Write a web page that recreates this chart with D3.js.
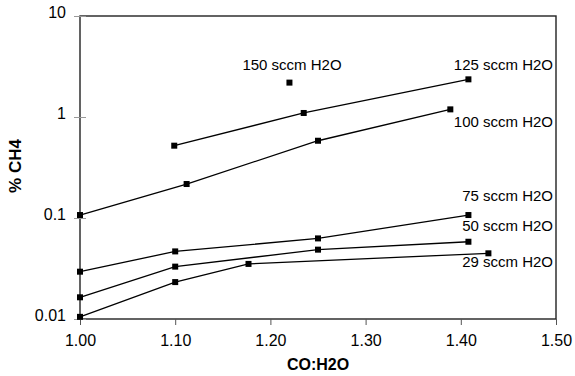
<!DOCTYPE html>
<html>
<head>
<meta charset="utf-8">
<script src="https://cdn.jsdelivr.net/npm/d3@7"></script>
<style>
  body { margin: 0; background: #fff; }
  svg text { font-family: "Liberation Sans", Arial, sans-serif; fill: #000; }
</style>
</head>
<body>
<div id="chart"></div>
<script>
// data (CO:H2O ratio vs % CH4)
const s29x = [1.00, 1.10, 1.177, 1.429];
const s29y = [0.0105, 0.0232, 0.0351, 0.0447];
const s50x = [1.00, 1.10, 1.25, 1.408];
const s50y = [0.0164, 0.033, 0.0486, 0.0582];
const s75x = [1.00, 1.10, 1.25, 1.408];
const s75y = [0.0294, 0.0467, 0.0628, 0.107];
const s100x = [1.00, 1.112, 1.25, 1.389];
const s100y = [0.107, 0.217, 0.582, 1.19];
const s125x = [1.099, 1.235, 1.408];
const s125y = [0.52, 1.096, 2.36];
const s150x = [1.22];
const s150y = [2.19];

const seriesNames = ['29 sccm H2O', '50 sccm H2O', '75 sccm H2O', '100 sccm H2O', '125 sccm H2O', '150 sccm H2O'];
const xTicks = [1.00, 1.10, 1.20, 1.30, 1.40, 1.50];
const yTicks = [0.01, 0.1, 1, 10];

const width = 575, height = 376;
const margin = {top: 16, right: 19, bottom: 57, left: 80};

const svg = d3.select('#chart').append('svg')
  .attr('width', width)
  .attr('height', height);

const x = d3.scaleLinear().domain([1.0, 1.5]).range([margin.left, width - margin.right]);
const y = d3.scaleLog().domain([0.01, 10]).range([height - margin.bottom, margin.top]);

// frame
svg.append('rect')
  .attr('x', x(1.0)).attr('y', y(10))
  .attr('width', x(1.5) - x(1.0)).attr('height', y(0.01) - y(10))
  .attr('fill', 'none').attr('stroke', '#222').attr('stroke-width', 1.4);

// x axis
const xAxis = svg.append('g')
  .attr('transform', 'translate(0,' + y(0.01) + ')')
  .call(d3.axisBottom(x).tickValues(xTicks).tickFormat(d3.format('.2f')).tickSizeOuter(0).tickSize(6).tickPadding(10));
xAxis.select('.domain').remove();
xAxis.selectAll('line').attr('stroke', '#555');
xAxis.selectAll('text').style('font-size', '16px');

// y axis
const yAxis = svg.append('g')
  .attr('transform', 'translate(' + x(1.0) + ',0)')
  .call(d3.axisLeft(y).tickValues(yTicks).tickFormat(d => d).tickSize(6).tickPadding(8));
yAxis.select('.domain').remove();
yAxis.selectAll('line').attr('stroke', '#999').attr('x2', 6).attr('x1', -6);
yAxis.selectAll('text').style('font-size', '16px').attr('dy', '0.1em');

// axis titles
svg.append('text')
  .attr('x', (x(1.0) + x(1.5)) / 2).attr('y', 370)
  .attr('text-anchor', 'middle')
  .style('font-size', '16px').style('font-weight', 'bold')
  .text('CO:H2O');

svg.append('text')
  .attr('transform', 'translate(21,' + 166 + ') rotate(-90)')
  .attr('text-anchor', 'middle')
  .style('font-size', '17px').style('font-weight', 'bold')
  .text('% CH4');

// series
const series = [
  {name: seriesNames[0], xs: s29x, ys: s29y},
  {name: seriesNames[1], xs: s50x, ys: s50y},
  {name: seriesNames[2], xs: s75x, ys: s75y},
  {name: seriesNames[3], xs: s100x, ys: s100y},
  {name: seriesNames[4], xs: s125x, ys: s125y},
  {name: seriesNames[5], xs: s150x, ys: s150y}
];

const line = d3.line().x(d => x(d[0])).y(d => y(d[1]));

series.forEach(s => {
  const pts = s.xs.map((v, i) => [v, s.ys[i]]);
  svg.append('path')
    .attr('d', line(pts))
    .attr('fill', 'none')
    .attr('stroke', '#000')
    .attr('stroke-width', 1.3);
  svg.selectAll(null)
    .data(pts)
    .enter().append('rect')
    .attr('x', d => x(d[0]) - 3)
    .attr('y', d => y(d[1]) - 3)
    .attr('width', 6).attr('height', 6)
    .attr('fill', '#000');
});

// series labels
const labelPos = [
  {name: seriesNames[0], x: 553, y: 262, anchor: 'end'},
  {name: seriesNames[1], x: 553, y: 226, anchor: 'end'},
  {name: seriesNames[2], x: 553, y: 196, anchor: 'end'},
  {name: seriesNames[3], x: 553, y: 122, anchor: 'end'},
  {name: seriesNames[4], x: 553, y: 65, anchor: 'end'},
  {name: seriesNames[5], x: 292, y: 65, anchor: 'middle'}
];
svg.selectAll('.lbl')
  .data(labelPos)
  .enter().append('text')
  .attr('class', 'lbl')
  .attr('x', d => d.x).attr('y', d => d.y)
  .attr('dy', '0.35em')
  .attr('text-anchor', d => d.anchor)
  .style('font-size', '15px')
  .text(d => d.name);
</script>
</body>
</html>
